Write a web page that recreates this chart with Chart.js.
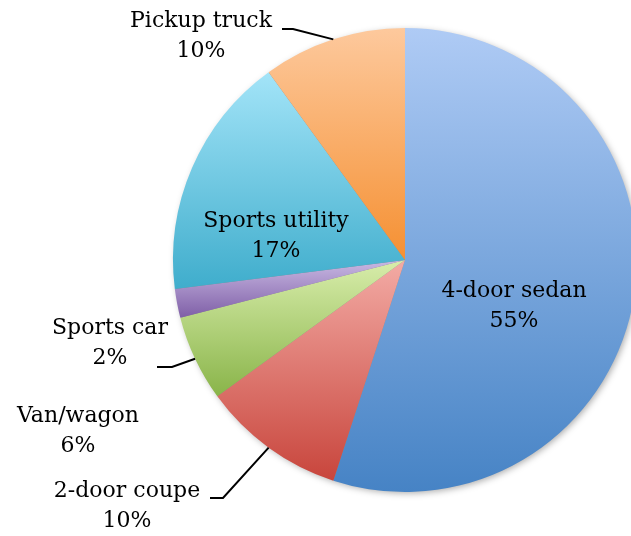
<!DOCTYPE html>
<html lang="en">
<head>
    <meta charset="UTF-8">
    <title>Vehicle types</title>
    <script src="https://cdn.jsdelivr.net/npm/chart.js"></script>
    <style>
        html, body { margin: 0; padding: 0; background: #fff; overflow: hidden; }
        #wrap { width: 631px; height: 536px; overflow: hidden; }
    </style>
</head>
<body>
    <div id="wrap">
        <canvas id="pieChart" width="700" height="536"></canvas>
    </div>

    <script>
        // data
        var categories = ['4-door sedan', '2-door coupe', 'Van/wagon', 'Sports car', 'Sports utility', 'Pickup truck'];
        var shares = [55, 10, 6, 2, 17, 10];

        // gradient stops per slice: light at top, dark at bottom
        var topColors = ['#afcbf5', '#f3aba5', '#d8edab', '#c9b9e3', '#a3e4f8', '#fdc99d'];
        var bottomColors = ['#4683c5', '#c8453c', '#89b449', '#7f5fa7', '#3fadcc', '#f59032'];

        // where each label's text sits, and where its leader line starts
        var labelLayout = [
            { x: 514, y: 291 },
            { x: 127, y: 491, line: [[210, 498], [223, 498]] },
            { x: 78, y: 416 },
            { x: 110, y: 328, line: [[157, 367], [172, 367]], lineTo: 2 },
            { x: 276, y: 221 },
            { x: 201, y: 21, line: [[282, 29], [293, 29]] }
        ];

        function sliceGradient(context) {
            var chart = context.chart;
            var area = chart.chartArea;
            if (!area) return topColors[context.dataIndex];
            var i = context.dataIndex;
            var total = shares.reduce(function (a, b) { return a + b; }, 0);
            var before = 0;
            for (var k = 0; k < i; k++) before += shares[k];
            var a0 = before / total * 2 * Math.PI;
            var a1 = (before + shares[i]) / total * 2 * Math.PI;
            var cy = (area.top + area.bottom) / 2;
            var r = Math.min(area.right - area.left, area.bottom - area.top) / 2;
            var ys = [cy, cy - r * Math.cos(a0), cy - r * Math.cos(a1)];
            if (a0 <= 0) ys.push(cy - r);
            if (a0 <= Math.PI && a1 >= Math.PI) ys.push(cy + r);
            if (a1 >= 2 * Math.PI - 1e-6 || a0 <= 0) ys.push(cy - r);
            var yMin = Math.min.apply(null, ys), yMax = Math.max.apply(null, ys);
            var g = chart.ctx.createLinearGradient(0, yMin, 0, yMax);
            g.addColorStop(0, topColors[i]);
            g.addColorStop(1, bottomColors[i]);
            return g;
        }

        var shadowPlugin = {
            id: 'pieShadow',
            beforeDatasetsDraw: function (chart) {
                var arc = chart.getDatasetMeta(0).data[0];
                if (!arc) return;
                var ctx = chart.ctx;
                ctx.save();
                ctx.shadowColor = 'rgba(0,0,0,0.35)';
                ctx.shadowBlur = 7;
                ctx.shadowOffsetX = 2;
                ctx.shadowOffsetY = 2;
                ctx.fillStyle = '#888';
                ctx.beginPath();
                ctx.arc(arc.x, arc.y, arc.outerRadius - 1, 0, Math.PI * 2);
                ctx.fill();
                ctx.restore();
            }
        };

        var labelPlugin = {
            id: 'sliceLabels',
            afterDatasetsDraw: function (chart) {
                var ctx = chart.ctx;
                var arcs = chart.getDatasetMeta(0).data;
                ctx.save();
                ctx.font = '22px "DejaVu Serif", serif';
                ctx.fillStyle = '#000';
                ctx.textAlign = 'center';
                ctx.textBaseline = 'middle';
                ctx.strokeStyle = '#000';
                ctx.lineWidth = 2;
                labelLayout.forEach(function (pos, i) {
                    ctx.fillText(categories[i], pos.x, pos.y);
                    ctx.fillText(shares[i] + '%', pos.x, pos.y + 30);
                    if (pos.line) {
                        var target = arcs[pos.lineTo !== undefined ? pos.lineTo : i];
                        var mid = (target.startAngle + target.endAngle) / 2;
                        var ex = target.x + Math.cos(mid) * target.outerRadius;
                        var ey = target.y + Math.sin(mid) * target.outerRadius;
                        ctx.beginPath();
                        ctx.moveTo(pos.line[0][0], pos.line[0][1]);
                        ctx.lineTo(pos.line[1][0], pos.line[1][1]);
                        ctx.lineTo(ex, ey);
                        ctx.stroke();
                    }
                });
                ctx.restore();
            }
        };

        var ctx = document.getElementById('pieChart').getContext('2d');
        var pieChart = new Chart(ctx, {
            type: 'pie',
            data: {
                labels: categories,
                datasets: [{
                    data: shares,
                    backgroundColor: sliceGradient,
                    borderWidth: 0
                }]
            },
            options: {
                responsive: false,
                animation: false,
                layout: { padding: { left: 173, top: 28, right: 63, bottom: 44 } },
                plugins: {
                    legend: { display: false },
                    tooltip: { enabled: false }
                }
            },
            plugins: [shadowPlugin, labelPlugin]
        });
    </script>
</body>
</html>
